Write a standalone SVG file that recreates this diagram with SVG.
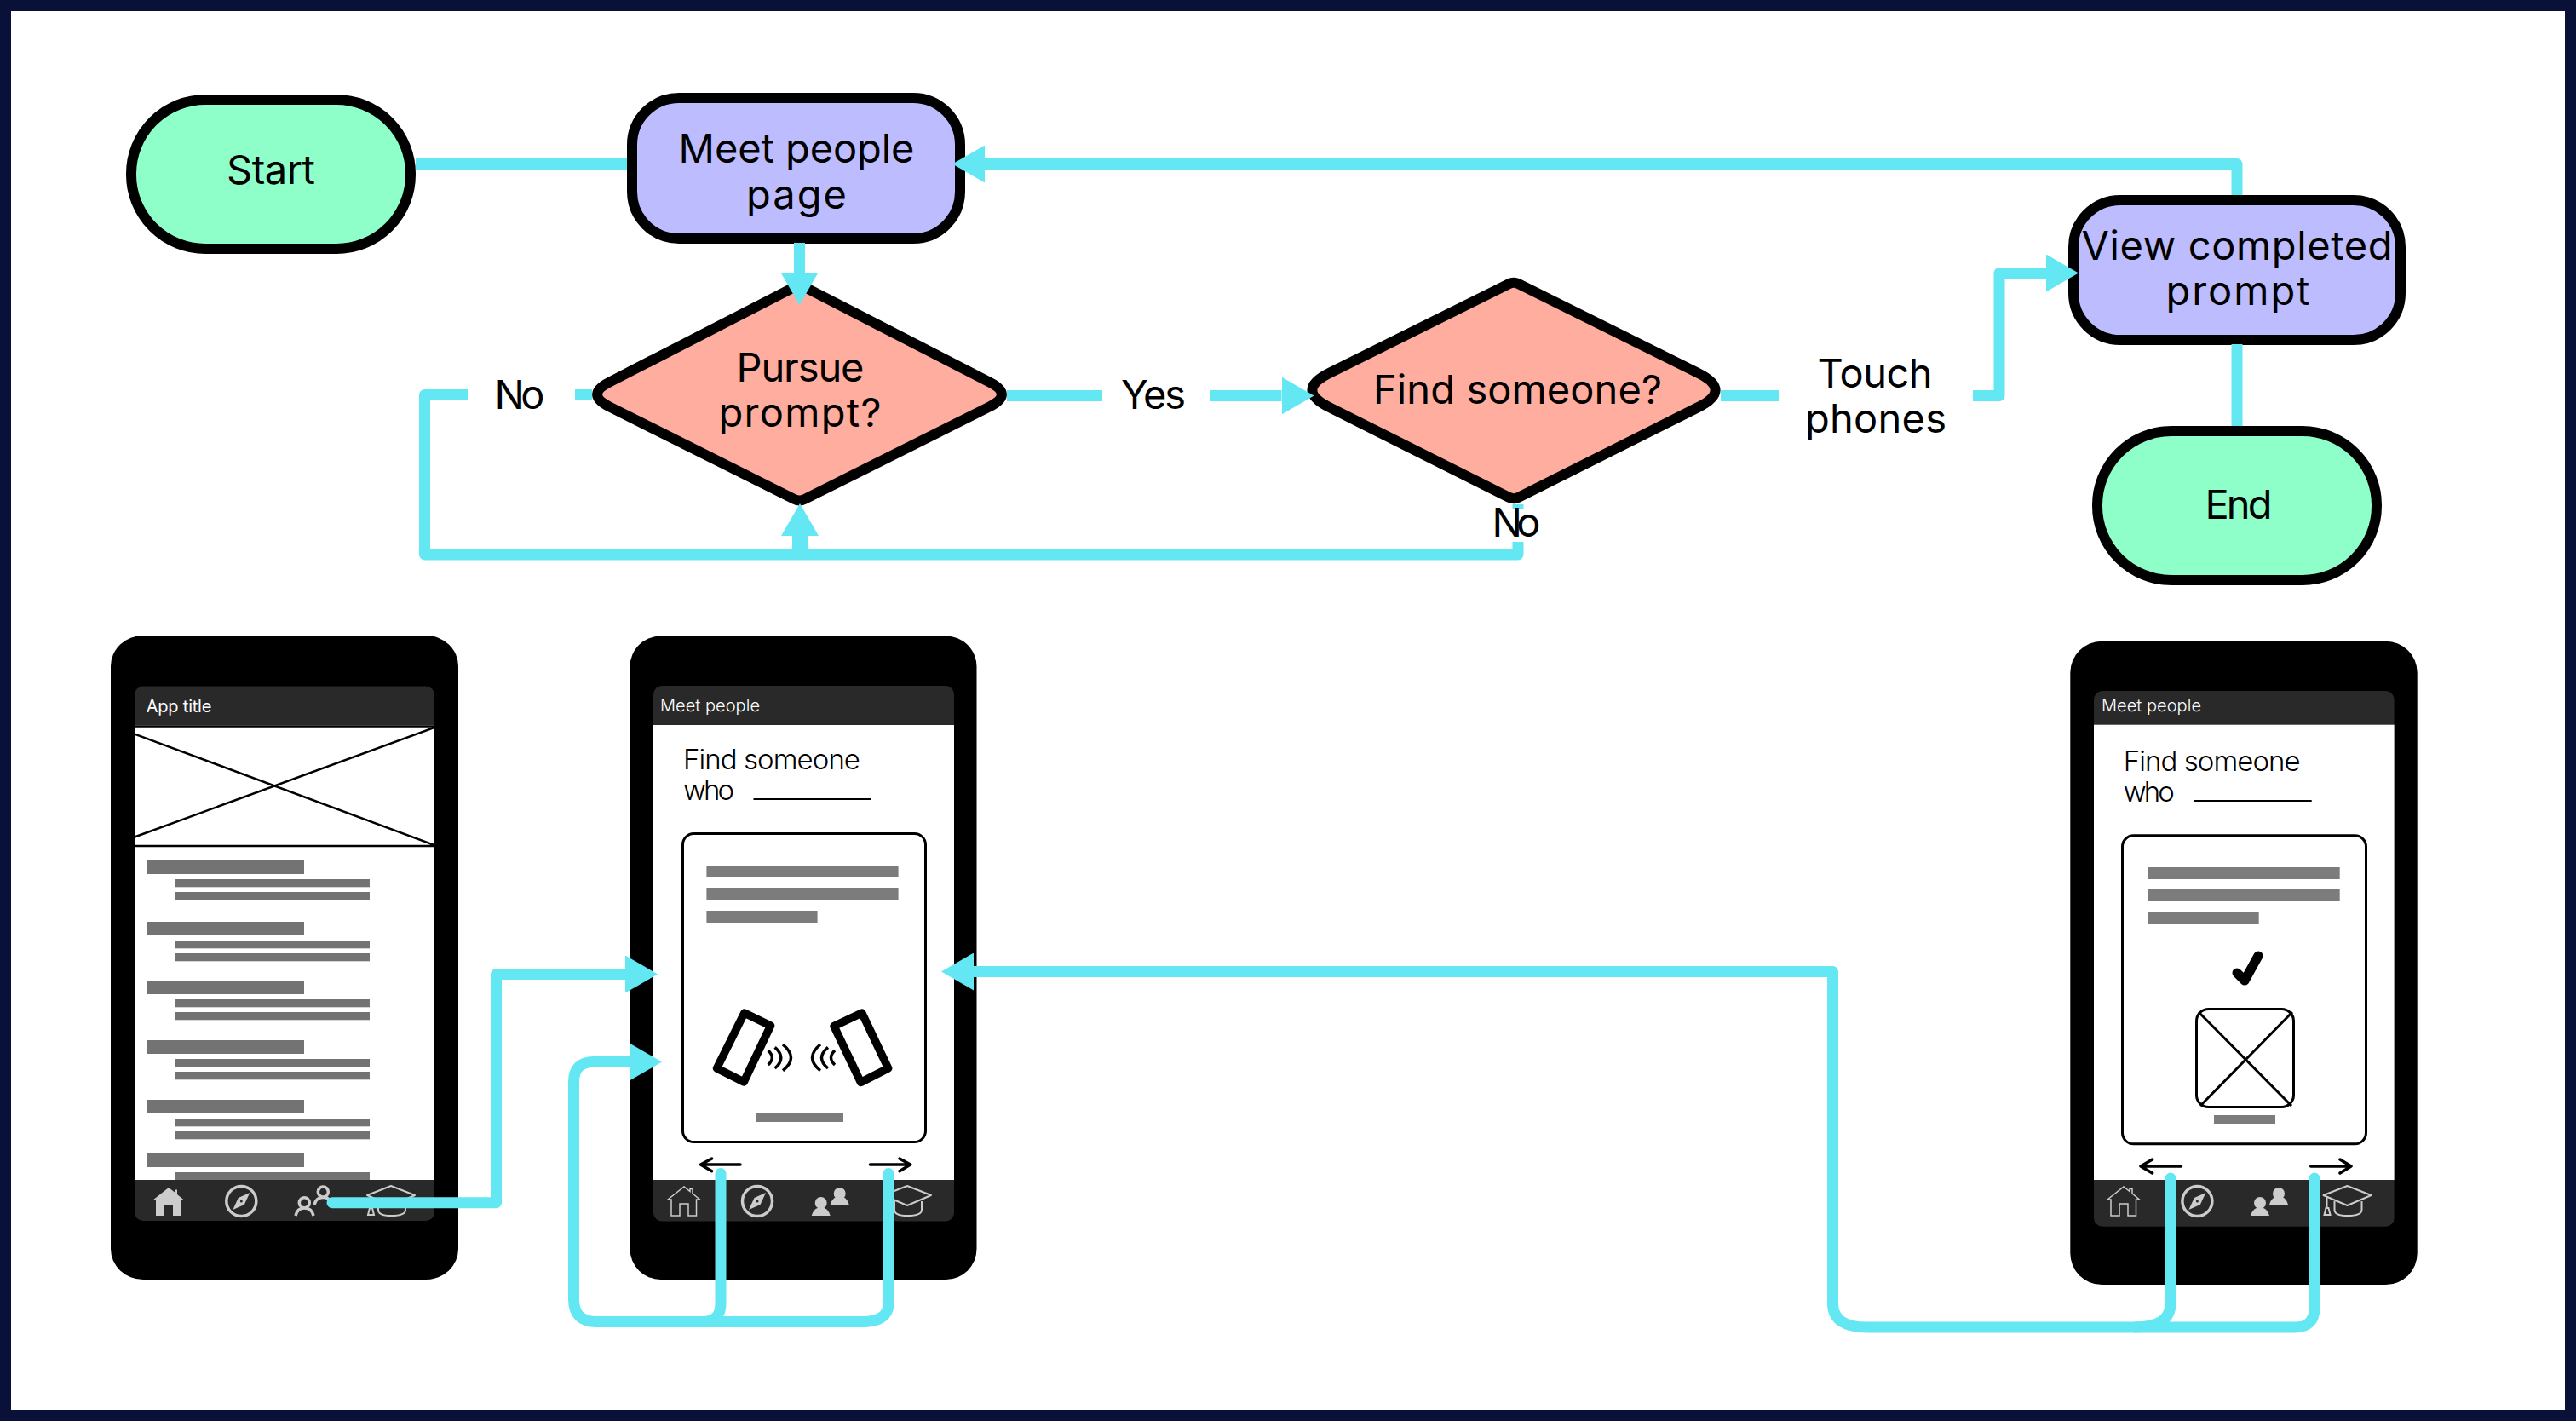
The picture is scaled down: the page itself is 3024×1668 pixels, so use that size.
<svg xmlns="http://www.w3.org/2000/svg" xmlns:xlink="http://www.w3.org/1999/xlink" width="3024" height="1668" viewBox="0 0 3024 1668">
<style>
text{font-family:"Inter","Liberation Sans",sans-serif;fill:#000}
.t{font-size:47px;text-anchor:middle;font-weight:400}
.s{stroke:#000;stroke-width:12}
.term{fill:#8effc9}.proc{fill:#bdbcff}.dec{fill:#ffad9e;stroke-linejoin:round}
.c{fill:none;stroke:#63e7f3;stroke-width:13;stroke-linejoin:round}
.r{stroke-linecap:round}
.lb{fill:#fff}
.body{fill:#000}.bar{fill:#292929}.scr{fill:#fff}
.g1{fill:#737373}.g2{fill:#7c7c7c}
.ttl{font-size:20px;font-weight:300;fill:#fff}
.prm{font-size:33px;font-weight:300}
.ln{fill:none;stroke:#000;stroke-width:3}
.ar{fill:none;stroke:#000;stroke-width:3.5;stroke-linecap:round;stroke-linejoin:round}
.wv{fill:none;stroke:#000;stroke-width:3.5}
.ic{fill:none;stroke:#ccc;stroke-width:1.5}
.ii{fill:#ccc}
</style>
<defs>
<marker id="ah" markerUnits="userSpaceOnUse" markerWidth="38" markerHeight="44" viewBox="0 0 38 44" refX="0" refY="22" orient="auto"><path d="M0 0L38 22L0 44Z" fill="#63e7f3"/></marker>
<symbol id="homeO" width="38" height="35" viewBox="0 0 38 35" overflow="visible"><path class="ic" d="M0 15L19 0L26 5.500V2.500H29V8L37.500 15H33.500V34H24V20H14V34H4V15Z"/></symbol>
<symbol id="homeF" width="38" height="35" viewBox="0 0 38 35" overflow="visible"><path class="ii" d="M0 15L19 0L26 5.500V2.500H29V8L37.500 15H33.500V33H24V20H14V33H4V15Z"/></symbol>
<symbol id="comp" width="40" height="40" viewBox="-20 -20 40 40" overflow="visible"><circle r="17.500" fill="none" stroke="#ccc" stroke-width="3.500"/><path class="ii" d="M10 -10L3.500 4L-10 10L-3.500 -4Z"/><circle r="1.500" fill="#292929"/></symbol>
<symbol id="pplF" width="46" height="30" viewBox="0 0 46 30" overflow="visible"><circle cx="11" cy="14" r="7" class="ii"/><path class="ii" d="M0 29Q3 19 11 19Q19 19 22 29Z"/><circle cx="33" cy="3" r="7" class="ii"/><path class="ii" d="M22 16Q25 6 33 6Q41 6 44 16Z"/></symbol>
<symbol id="cap" width="58" height="36" viewBox="0 0 58 36" overflow="visible"><path fill="none" stroke="#ccc" stroke-width="2" stroke-linejoin="round" d="M1 11L29 0L57 11L29 23Z"/><path fill="none" stroke="#ccc" stroke-width="2" d="M14 18V28Q14 35 29 35Q46 35 46 28V18M5 13V26M2 34H9L7 26H4Z"/></symbol>
</defs>

<rect width="3024" height="1668" fill="#0a1138"/>
<rect x="13" y="13" width="2998" height="1642" fill="#fff"/>

<g id="node-start"><rect class="s term" x="154" y="117" width="328" height="175" rx="87" ry="87"/><text class="t" x="318" y="216" textLength="104">Start</text></g>
<g id="node-meet-people"><rect class="s proc" x="742" y="115" width="385" height="165" rx="55" ry="55"/><text class="t" x="935" y="190.500" textLength="277">Meet people</text><text class="t" x="935" y="244.700" textLength="118">page</text></g>
<g id="node-pursue"><path class="s dec" d="M932.500 337Q938.500 334 944.500 337L1161.400 448.500Q1190.400 463 1161.400 477.500L944.500 586Q938.500 589 932.500 586L715.600 477.500Q686.600 463 715.600 448.500Z"/><text class="t" x="939.500" y="447.600" textLength="150">Pursue</text><text class="t" x="939" y="501" textLength="191">prompt?</text></g>
<g id="node-find"><path class="s dec" d="M1771 333.300Q1777 330.300 1783 333.300L1992.600 437.500Q2034.600 458 1992.600 478.500L1783 583.700Q1777 586.700 1771 583.700L1561.400 478.500Q1519.400 458 1561.400 437.500Z"/><text class="t" x="1781.500" y="474" textLength="339">Find someone?</text></g>
<g id="node-view"><rect class="s proc" x="2434" y="235" width="384" height="164" rx="55" ry="55"/><text class="t" x="2626" y="305" textLength="365">View completed</text><text class="t" x="2627" y="358" textLength="169">prompt</text></g>
<g id="node-end"><rect class="s term" x="2462" y="506" width="328" height="175" rx="87" ry="87"/><text class="t" x="2628" y="609" textLength="79">End</text></g>

<g id="phone-home">
<rect class="body" x="130" y="746" width="408" height="756" rx="38" ry="36"/>
<rect class="bar" x="158" y="805.500" width="352" height="627.500" rx="10"/>
<rect class="scr" x="158" y="851" width="352" height="534"/>
<text class="ttl" x="171.700" y="835.600" textLength="76.700" style="font-weight:400">App title</text>
<path fill="none" stroke="#000" stroke-width="2.500" d="M158 852.500H510M158 993H510M158 861.600L510 992M158 982.500L510 854"/>
<rect class="g1" x="173" y="1010" width="184" height="16"/><rect class="g1" x="205" y="1032" width="229" height="9.300"/><rect class="g1" x="205" y="1047" width="229" height="9.300"/>
<rect class="g1" x="173" y="1082" width="184" height="16"/><rect class="g1" x="205" y="1104" width="229" height="9.300"/><rect class="g1" x="205" y="1119" width="229" height="9.300"/>
<rect class="g1" x="173" y="1151" width="184" height="16"/><rect class="g1" x="205" y="1173" width="229" height="9.300"/><rect class="g1" x="205" y="1188" width="229" height="9.300"/>
<rect class="g1" x="173" y="1221" width="184" height="16"/><rect class="g1" x="205" y="1243" width="229" height="9.300"/><rect class="g1" x="205" y="1258" width="229" height="9.300"/>
<rect class="g1" x="173" y="1291" width="184" height="16"/><rect class="g1" x="205" y="1313" width="229" height="9.300"/><rect class="g1" x="205" y="1328" width="229" height="9.300"/>
<rect class="g1" x="173" y="1354" width="184" height="16"/><rect class="g1" x="205" y="1376" width="229" height="9"/>
<use href="#homeF" x="179" y="1394"/>
<use href="#comp" x="263.300" y="1390"/>
<g fill="none" stroke="#ccc" stroke-width="3.500"><circle cx="357.300" cy="1411.700" r="6"/><path d="M347 1427Q349 1418 357.300 1418Q366 1418 368 1427"/><circle cx="379.300" cy="1399" r="6"/><path d="M369 1414Q371 1405.500 379.300 1405.500Q388 1405.500 390 1414"/></g>
<use href="#cap" x="430" y="1392"/>
</g>

<g id="phone-find">
<rect class="body" x="739.500" y="746.500" width="407" height="755.500" rx="36"/>
<rect class="bar" x="767" y="805" width="353" height="628.500" rx="10"/>
<rect class="scr" x="767" y="851" width="353" height="534"/>
<text class="ttl" x="775" y="835" textLength="117">Meet people</text>
<text class="prm" x="802" y="902.700" textLength="208">Find someone</text>
<text class="prm" x="802" y="938.700" textLength="60">who</text>
<path class="ln" d="M884.500 938H1022" style="stroke-width:2"/>
<rect x="801.500" y="978.500" width="285" height="362" rx="13" class="ln" style="fill:#fff"/>
<rect class="g2" x="829.400" y="1016" width="225.200" height="14"/><rect class="g2" x="829.400" y="1042" width="225.200" height="14"/><rect class="g2" x="829.400" y="1069" width="130.200" height="14"/>
<path fill="none" stroke="#000" stroke-width="9.500" stroke-linejoin="round" d="M873.800 1189L904.600 1204L873.200 1270L841.500 1254Z"/>
<path fill="none" stroke="#000" stroke-width="9.500" stroke-linejoin="round" d="M1011.800 1189L979 1204.500L1010.500 1270.500L1042.700 1254Z"/>
<path class="wv" d="M901.700 1233Q911 1241.700 901.700 1250M909.600 1229.300Q924 1241.700 909.600 1254M919 1226Q938 1241.700 919 1256.700M980 1233Q971 1241.700 980 1250M972 1229.300Q957 1241.700 972 1254M963 1226Q944 1241.700 963 1256.700"/>
<rect class="g2" x="887" y="1307" width="103" height="10"/>
<path class="ar" d="M869 1367H822.500M835.600 1360L822.500 1367L835.600 1374.700M1021.500 1367H1068.700M1056 1360L1068.700 1367L1056 1374.700"/>
<use href="#homeO" x="784" y="1393"/>
<use href="#comp" x="869" y="1390"/>
<use href="#pplF" x="952.700" y="1398"/>
<use href="#cap" x="1036" y="1392"/>
</g>

<g id="phone-completed">
<rect class="body" x="2430.300" y="752.700" width="407.400" height="755.300" rx="37"/>
<rect class="bar" x="2458" y="811" width="352.600" height="628.700" rx="10"/>
<rect class="scr" x="2458" y="850.700" width="352.600" height="534.300"/>
<text class="ttl" x="2467" y="835" textLength="117">Meet people</text>
<text class="prm" x="2492.700" y="905" textLength="208">Find someone</text>
<text class="prm" x="2492.700" y="941" textLength="60">who</text>
<path class="ln" d="M2575 940H2713.700" style="stroke-width:2"/>
<rect x="2491.500" y="980.800" width="286" height="362" rx="13" class="ln" style="fill:#fff"/>
<rect class="g2" x="2521" y="1018" width="225.700" height="14"/><rect class="g2" x="2521" y="1044" width="225.700" height="14"/><rect class="g2" x="2521" y="1071" width="130.700" height="14"/>
<path fill="none" stroke="#000" stroke-width="11" stroke-linecap="round" stroke-linejoin="round" d="M2626 1142L2635 1151L2651 1122"/>
<rect x="2578.500" y="1184.500" width="114" height="115" rx="14" class="ln"/>
<path class="ln" d="M2581 1188L2690 1298M2691 1188L2583 1298"/>
<rect class="g2" x="2599" y="1309" width="72" height="10"/>
<path class="ar" d="M2560.500 1369H2513M2526.600 1361L2513 1369L2526.600 1377M2712.700 1369H2760M2747 1361L2760 1369L2747 1377"/>
<use href="#homeO" x="2474" y="1393"/>
<use href="#comp" x="2559.400" y="1390"/>
<use href="#pplF" x="2642" y="1398"/>
<use href="#cap" x="2726.500" y="1392"/>
</g>

<g id="connectors">
<path class="c" d="M488 192.500H736"/>
<path class="c" d="M938.500 285V320" marker-end="url(#ah)"/>
<path class="c" d="M2626 229V192.500H1156" marker-end="url(#ah)"/>
<path class="c" d="M695 463.500H498.500V651H1782V592"/>
<path class="c" d="M939 651V629" style="stroke-width:18" marker-end="url(#ah)"/>
<path class="c" d="M1182 464.500H1504.500" marker-end="url(#ah)"/>
<path class="c" d="M2020 464.500H2347V320.500H2402" marker-end="url(#ah)"/>
<path class="c" d="M2626 404V500"/>
<path class="c r" d="M390 1411.700H582.500V1143.500H734" marker-end="url(#ah)"/>
<path class="c r" d="M846 1377.500V1530Q846 1551.500 825 1551.500H700Q673.500 1551.500 673.500 1525V1270Q673.500 1246.500 697 1246.500H739" marker-end="url(#ah)"/>
<path class="c r" d="M1043 1377.500V1530Q1043 1551.500 1012 1551.500H802"/>
<path class="c r" d="M2548 1383V1530Q2548 1558 2506 1558H2192Q2151.500 1558 2151.500 1530V1140.500H1143" marker-end="url(#ah)"/>
<path class="c r" d="M2717 1383V1535Q2717 1558 2694 1558H2506"/>
</g>

<g id="connector-labels">
<rect class="lb" x="549" y="445" width="126" height="45"/><text class="t" x="610" y="480" textLength="59">No</text>
<rect class="lb" x="1294" y="445" width="126" height="45"/><text class="t" x="1354" y="480" textLength="76">Yes</text>
<rect class="lb" x="2088" y="410" width="228" height="110"/><text class="t" x="2201" y="454.500" textLength="135">Touch</text><text class="t" x="2202" y="508" textLength="166">phones</text>
<rect class="lb" x="1750" y="597" width="62" height="39"/><text class="t" x="1780" y="630" textLength="57">No</text>
</g>
</svg>
